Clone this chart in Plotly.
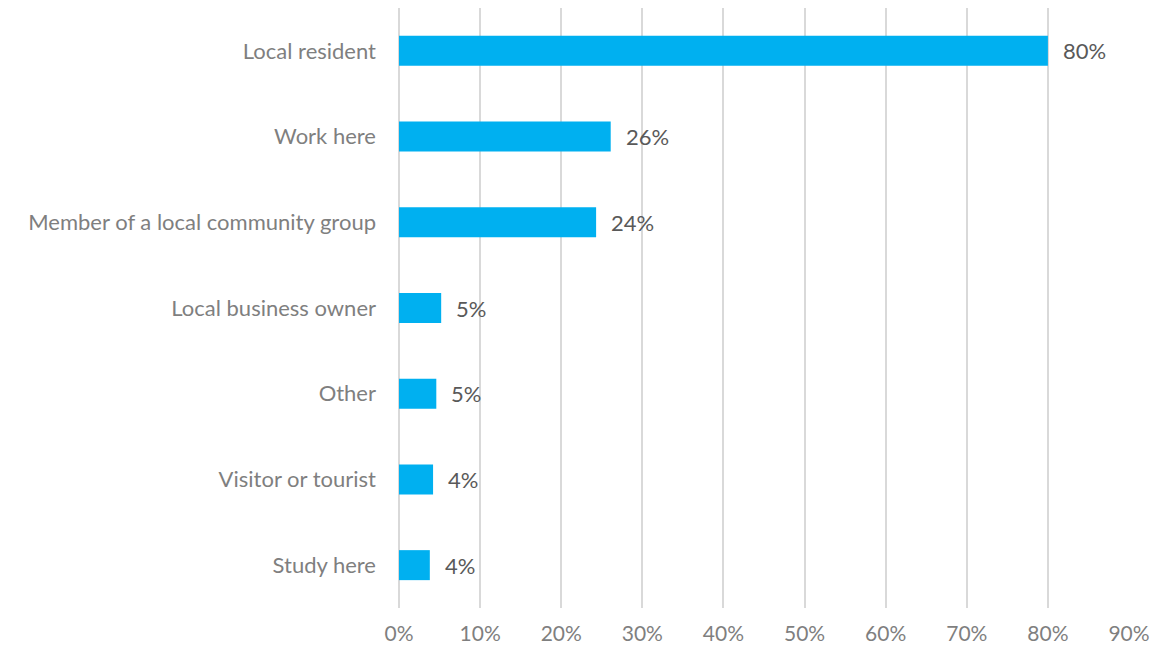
import plotly.graph_objects as go

# Survey responses: connection to the area (share of respondents, %)
categories = [
    "Local resident",
    "Work here",
    "Member of a local community group",
    "Local business owner",
    "Other",
    "Visitor or tourist",
    "Study here",
]
shares = [80.0, 26.1, 24.3, 5.2, 4.6, 4.2, 3.8]

tick_values = [0, 10, 20, 30, 40, 50, 60, 70, 80, 90]
tick_labels = [f"{v}%" for v in tick_values]

BAR_COLOR = "#00B0F0"
LABEL_GRAY = "#7F7F7F"
VALUE_GRAY = "#595959"
GRID_GRAY = "#D9D9D9"
FONT = "Lato, Carlito, 'Open Sans', sans-serif"
FONT_SIZE = 22

fig = go.Figure(
    go.Bar(
        x=shares,
        y=categories,
        orientation="h",
        marker=dict(color=BAR_COLOR, line=dict(width=0)),
        width=0.35,
        hoverinfo="skip",
    )
)

# Value labels just right of each bar end
for cat, val in zip(categories, shares):
    fig.add_annotation(
        x=val,
        y=cat,
        text=f"{val:.0f}%",
        showarrow=False,
        xanchor="left",
        xshift=13,
        font=dict(family=FONT, size=FONT_SIZE, color=VALUE_GRAY),
    )

fig.update_layout(
    width=1174,
    height=648,
    margin=dict(l=399, r=44, t=8, b=40),
    paper_bgcolor="white",
    plot_bgcolor="white",
    showlegend=False,
    font=dict(family=FONT, size=FONT_SIZE, color=LABEL_GRAY),
    xaxis=dict(
        range=[0, 90.12],
        tickvals=tick_values,
        ticktext=tick_labels,
        showgrid=True,
        gridcolor=GRID_GRAY,
        gridwidth=1.5,
        zeroline=True,
        zerolinecolor=GRID_GRAY,
        zerolinewidth=1.5,
        showline=False,
        ticks="",
        ticklabelstandoff=11,
        tickfont=dict(family=FONT, size=21, color=LABEL_GRAY),
        automargin=False,
        fixedrange=True,
    ),
    yaxis=dict(
        categoryorder="array",
        categoryarray=categories[::-1],
        showgrid=False,
        zeroline=False,
        showline=False,
        ticks="",
        ticklabelstandoff=22,
        tickfont=dict(family=FONT, size=FONT_SIZE, color=LABEL_GRAY),
        automargin=False,
        fixedrange=True,
    ),
)

fig.write_html("out.html")
